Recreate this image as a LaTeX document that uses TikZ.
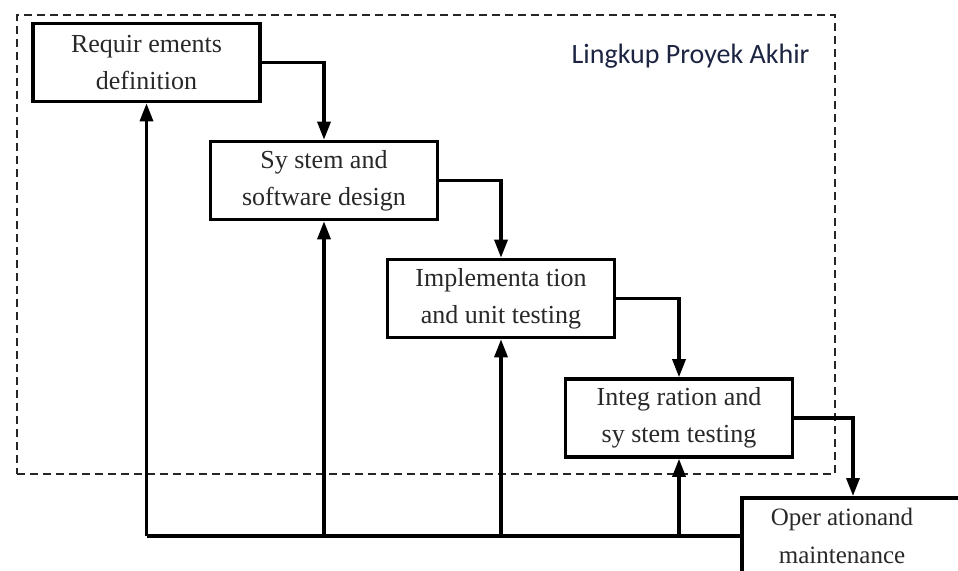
\documentclass[tikz,border=0pt]{standalone}
\usepackage{fontspec}
\setmainfont{Liberation Serif}
\newfontfamily\labelfont{Carlito}
\usetikzlibrary{arrows.meta,calc}
\definecolor{inkgray}{RGB}{40,40,40}
\definecolor{scopeblue}{RGB}{28,36,66}
\tikzset{
  phase/.style={draw=black, line width=3.6pt, minimum width=227pt, minimum height=78pt,
    align=center, text=inkgray, font=\fontsize{26}{37}\selectfont, inner sep=0pt},
  flow/.style={line width=3.3pt, -{Triangle[length=18pt,width=13pt]}},
  feed/.style={line width=3.3pt},
  scopeframe/.style={draw=black!85, line width=2pt, dash pattern=on 8pt off 5pt}
}
\begin{document}
\begin{tikzpicture}[x=1pt,y=-1pt]
  \useasboundingbox (0,0) rectangle (958,570);
  \clip (0,0) rectangle (958,570);

  % project scope frame
  \node[scopeframe, anchor=north west, minimum width=818pt, minimum height=459pt, inner sep=0pt]
    (scope) at (16,14) {};
  \node[anchor=east, text=scopeblue, font=\labelfont\fontsize{28}{32}\selectfont]
    (scopelabel) at (813,56) {Lingkup Proyek Akhir};

  % waterfall phases
  \node[phase] (req)  at (146.5,62.5) {Requir ements\\definition};
  \node[phase] (des)  at (324,180.5)  {Sy stem and\\software design};
  \node[phase] (impl) at (501,298.5)  {Implementa tion\\and unit testing};
  \node[phase] (integ) at (679,418)   {Integ ration and\\sy stem testing};
  \node[draw=black, line width=3.6pt, anchor=north west, minimum width=260pt, minimum height=120pt,
    inner sep=0pt] (ops) at (740,496) {};
  \node[text=inkgray, font=\fontsize{25}{38}\selectfont, align=center, inner sep=0pt]
    (opstext) at (842,536) {Oper ationand\\maintenance};

  % downward flow between phases
  \coordinate (opsin) at ($(ops.north west)+(113,0)$);
  \draw[flow] (req.east) -| (des.north);
  \draw[flow] (des.east) -| (impl.north);
  \draw[flow] (impl.east) -| (integ.north);
  \draw[flow] (integ.east) -| (opsin);

  % feedback paths
  \coordinate (fb) at (147,536);
  \draw[feed] (req.south |- fb) -- (ops.west |- fb);
  \draw[flow] (req.south |- fb) -- (req.south);
  \draw[flow] (des.south |- fb) -- (des.south);
  \draw[flow] (impl.south |- fb) -- (impl.south);
  \draw[flow] (integ.south |- fb) -- (integ.south);
\end{tikzpicture}
\end{document}
